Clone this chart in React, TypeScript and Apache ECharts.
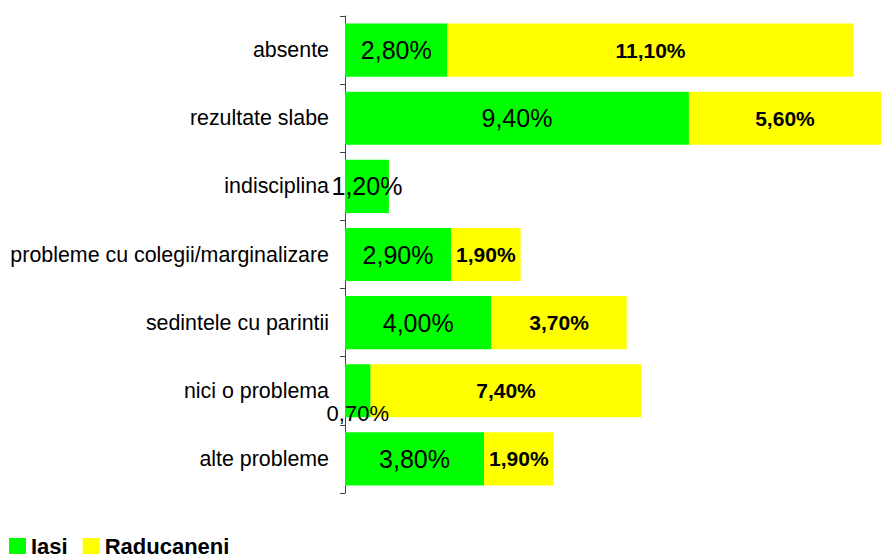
import React, { useEffect, useRef } from "react";
import * as echarts from "echarts";

const categories = [
  "absente",
  "rezultate slabe",
  "indisciplina",
  "probleme cu colegii/marginalizare",
  "sedintele cu parintii",
  "nici o problema",
  "alte probleme",
];
const iasiValues = [2.8, 9.4, 1.2, 2.9, 4.0, 0.7, 3.8];
const raducaneniValues: (number | null)[] = [11.1, 5.6, null, 1.9, 3.7, 7.4, 1.9];
const seriesNames = ["Iasi", "Raducaneni"];

const fmt = (v: number) => v.toFixed(2).replace(".", ",") + "%";
const FONT = "'Liberation Sans', Arial, sans-serif";

export default function App() {
  const ref = useRef<HTMLDivElement>(null);
  useEffect(() => {
    if (!ref.current) return;
    const chart = echarts.init(ref.current, undefined, { renderer: "svg" });
    chart.setOption({
      animation: false,
      backgroundColor: "#ffffff",
      textStyle: { fontFamily: FONT },
      grid: { left: 345, right: 0, top: 16, bottom: 65, containLabel: false },
      legend: {
        left: 9,
        top: 535,
        padding: 0,
        icon: "rect",
        itemWidth: 17,
        itemHeight: 16,
        itemGap: 15,
        data: seriesNames,
        textStyle: {
          fontFamily: FONT,
          fontSize: 22,
          lineHeight: 20,
          fontWeight: "bold",
          color: "#000",
        },
      },
      xAxis: {
        type: "value",
        min: 0,
        max: 14.65,
        show: false,
        splitLine: { show: false },
      },
      yAxis: {
        type: "category",
        data: categories,
        inverse: true,
        axisLine: { show: true, lineStyle: { color: "#444", width: 1 } },
        axisTick: { show: true, length: 5, lineStyle: { color: "#444" } },
        axisLabel: { margin: 16, fontSize: 21.4, color: "#000", fontFamily: FONT },
      },
      series: [
        {
          name: seriesNames[0],
          type: "bar",
          stack: "s",
          barCategoryGap: "22%",
          itemStyle: { color: "#00ff00" },
          label: {
            show: true,
            position: "inside",
            fontSize: 25,
            color: "#000",
            fontFamily: FONT,
            formatter: (p: any) => fmt(p.value),
          },
          data: iasiValues.map((v, i) =>
            i === 5
              ? {
                  value: v,
                  label: { position: "insideBottom", offset: [0, 12], fontSize: 22 },
                }
              : v
          ),
        },
        {
          name: seriesNames[1],
          type: "bar",
          stack: "s",
          barCategoryGap: "22%",
          itemStyle: { color: "#ffff00" },
          label: {
            show: true,
            position: "inside",
            fontSize: 21,
            fontWeight: "bold",
            color: "#000",
            fontFamily: FONT,
            formatter: (p: any) => (p.value == null ? "" : fmt(p.value)),
          },
          data: raducaneniValues.map((v) => (v == null ? "-" : v)),
        },
      ],
    });
    return () => chart.dispose();
  }, []);
  return (
    <div
      ref={ref}
      style={{ position: "absolute", left: 0, top: 0, width: 881, height: 558 }}
    />
  );
}
